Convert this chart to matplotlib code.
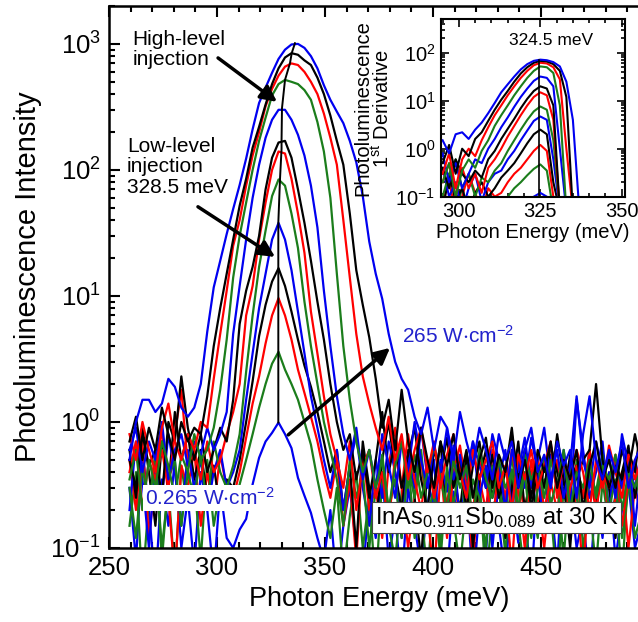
import numpy as np
import matplotlib
matplotlib.use("Agg")
from matplotlib import pyplot as plt
from matplotlib.ticker import LogLocator, MultipleLocator, FixedLocator, LogFormatterMathtext, NullFormatter

plt.rcParams['font.family'] = 'Liberation Sans'
plt.rcParams['mathtext.fontset'] = 'custom'
plt.rcParams['mathtext.rm'] = 'Liberation Sans'
plt.rcParams['mathtext.it'] = 'Liberation Sans:italic'
plt.rcParams['mathtext.default'] = 'regular'

# main spectra: photon energy grid (meV), first point and step
e_start = 259.5
e_step = 3.0

# PL intensity, lowest excitation (0.265 W/cm2) first, highest (265 W/cm2) last
pl_1 = [0.3, 0.08, 0.6, 0.2, 0.05, 0.35, 0.15, 0.5, 0.1, 0.25, 0.07, 0.4, 0.2, 0.06, 0.3, 0.12,
        0.1, 0.14, 0.17, 0.32, 0.52, 0.7, 0.82, 0.99, 0.8, 0.62, 0.36, 0.26, 0.19, 0.12,
        0.08, 0.2, 0.05, 0.15, 0.3, 0.1, 0.06, 0.25, 0.12, 0.4, 0.08, 0.18, 0.05, 0.3, 0.15, 0.07,
        0.22, 0.5, 0.1, 0.06, 0.28, 0.13, 0.35, 0.05, 0.2, 0.09, 0.45, 0.15, 0.06, 0.3, 0.11, 0.2,
        0.05, 0.38, 0.14, 0.25, 0.07, 0.6, 0.3, 0.1, 0.18, 0.05, 0.27, 0.12, 0.4, 0.08, 0.2, 0.33,
        0.1, 0.16, 0.05]
pl_2 = [0.15, 0.4, 0.05, 0.25, 0.5, 0.1, 0.3, 0.06, 0.45, 0.2, 0.35, 0.08, 0.5, 0.15, 0.3, 0.22,
        0.2, 0.32, 0.5, 0.8, 1.3, 2.0, 2.9, 3.6, 2.6, 2.0, 1.5, 1.0, 0.66, 0.35, 0.2,
        0.12, 0.3, 0.06, 0.18, 0.4, 0.1, 0.25, 0.05, 0.35, 0.15, 0.08, 0.28, 0.5, 0.12, 0.2, 0.06,
        0.32, 0.1, 0.45, 0.17, 0.07, 0.24, 0.13, 0.38, 0.05, 0.2, 0.3, 0.09, 0.42, 0.16, 0.06, 0.25,
        0.12, 0.35, 0.2, 0.05, 0.3, 0.14, 0.5, 0.1, 0.22, 0.07, 0.34, 0.15, 0.26, 0.06, 0.4, 0.12,
        0.19, 0.3]
pl_3 = [0.5, 0.2, 0.7, 0.12, 0.35, 0.9, 0.25, 0.06, 0.45, 0.3, 0.6, 0.15, 0.4, 0.2, 0.55, 0.3,
        0.25, 0.4, 0.75, 1.4, 2.3, 4.2, 7.0, 9.6, 7.0, 4.5, 2.6, 1.7, 1.1, 0.7, 0.4,
        0.25, 0.5, 0.15, 0.35, 0.08, 0.6, 0.2, 0.3, 0.12, 0.45, 0.9, 0.3, 0.1, 0.25, 0.5, 0.18,
        0.06, 0.4, 0.22, 0.55, 0.13, 0.3, 0.08, 0.35, 0.2, 0.6, 0.15, 0.28, 0.07, 0.4, 0.18, 0.5,
        0.25, 0.1, 0.33, 0.2, 0.45, 0.12, 0.3, 0.06, 0.38, 0.2, 0.55, 0.15, 0.25, 0.4, 0.1, 0.3,
        0.18, 0.35]
pl_4 = [0.6, 0.25, 0.9, 0.4, 0.15, 0.7, 0.3, 1.2, 0.5, 0.8, 0.35, 0.6, 0.25, 0.45, 0.2, 0.35,
        0.3, 0.5, 1.0, 2.1, 4.8, 8.5, 13, 16.6, 12, 7.5, 4.5, 2.8, 1.9, 1.2, 0.7, 0.4,
        0.6, 0.2, 0.45, 0.1, 0.7, 0.3, 0.15, 0.5, 1.0, 0.4, 0.2, 0.6, 0.25, 0.08, 0.45, 0.3,
        0.7, 0.15, 0.4, 0.2, 0.55, 0.1, 0.35, 0.6, 0.25, 0.45, 0.12, 0.3, 0.7, 0.2, 0.4, 0.15,
        0.5, 0.3, 0.8, 0.35, 0.1, 0.45, 0.25, 0.6, 0.2, 0.5, 0.3, 0.12, 0.4, 0.65, 0.25, 0.45, 0.2]
pl_5 = [0.2, 0.7, 0.35, 0.1, 0.5, 0.25, 0.8, 0.4, 0.15, 0.6, 0.3, 0.5, 0.2, 0.4, 0.6, 0.3,
        0.4, 0.6, 1.5, 3.5, 8.0, 15, 28, 38, 28, 16, 7.5, 3.5, 1.6, 0.9, 0.5,
        0.3, 0.6, 0.2, 0.45, 0.8, 0.3, 0.15, 0.5, 0.25, 0.7, 0.4, 0.12, 0.55, 0.3, 0.9, 0.35,
        0.2, 0.5, 0.28, 0.65, 0.15, 0.4, 0.7, 0.25, 0.45, 0.1, 0.35, 0.6, 0.2, 0.5, 0.3, 0.75,
        0.4, 0.15, 0.55, 0.3, 0.45, 0.2, 1.5, 0.6, 0.25, 0.4, 0.7, 0.2, 0.5, 0.3, 0.6, 0.15,
        0.45, 0.35]
pl_6 = [0.3, 0.12, 0.45, 0.2, 0.6, 0.08, 0.35, 0.5, 0.15, 0.4, 0.25, 0.55, 0.2, 0.7, 0.4, 0.3,
        0.45, 0.8, 2.5, 7, 17, 33, 62, 84, 75, 45, 24, 9, 4, 2, 1.0, 0.6,
        0.35, 0.15, 0.5, 0.25, 0.4, 0.1, 0.3, 0.55, 0.2, 0.35, 0.12, 0.45, 0.25, 0.6, 0.18, 0.3,
        0.08, 0.4, 0.22, 0.5, 0.15, 0.35, 0.25, 0.1, 0.45, 0.3, 0.18, 0.55, 0.2, 0.4, 0.12, 0.3,
        0.5, 0.22, 0.35, 0.08, 0.45, 0.25, 0.15, 0.4, 0.28, 0.55, 0.2, 0.35, 0.12, 0.3, 0.45, 0.2, 0.3]
pl_7 = [0.4, 0.7, 0.2, 0.5, 0.35, 0.6, 0.3, 0.8, 1.8, 0.45, 0.6, 0.35, 0.7, 0.4, 0.5, 0.8,
        1.2, 2, 7, 12, 28, 55, 100, 140, 135, 85, 45, 22, 7.5, 3.5, 1.6, 0.8,
        0.5, 0.3, 0.7, 0.2, 0.45, 0.6, 0.25, 0.4, 0.15, 0.55, 0.3, 0.8, 0.35, 0.2, 0.5, 0.25,
        0.45, 0.12, 0.4, 0.65, 0.3, 0.2, 0.5, 0.35, 0.15, 0.45, 0.25, 0.6, 0.3, 0.1, 0.4, 0.55,
        0.2, 0.35, 0.5, 0.15, 0.3, 0.45, 0.25, 0.6, 0.2, 0.4, 0.3, 0.55, 0.15, 0.35, 0.5, 0.25, 0.4]
pl_8 = [0.5, 0.3, 0.8, 0.45, 0.6, 0.25, 1.0, 0.7, 2.3, 0.9, 0.5, 0.8, 0.4, 0.6, 0.9, 0.7,
        1.5, 6, 11, 17, 30, 70, 125, 165, 170, 125, 70, 38, 19, 9, 4.5, 2.0, 1.0, 0.6,
        0.8, 0.35, 0.6, 0.25, 0.5, 1.2, 0.4, 0.7, 0.3, 0.55, 0.9, 0.35, 0.2, 0.6, 0.4, 0.75,
        0.3, 0.5, 0.2, 0.45, 0.7, 0.3, 0.55, 0.25, 0.4, 0.8, 0.35, 0.6, 0.2, 0.45,
        0.3, 0.65, 0.4, 0.25, 0.55, 0.35, 0.5, 0.6, 2.0, 0.5, 0.3, 0.45, 0.35, 0.6, 0.4, 1.0, 2.4]
pl_9 = [0.6, 0.9, 0.4, 0.7, 0.5, 1.0, 0.35, 0.6, 0.8, 0.45, 0.7, 0.55, 0.9, 0.6, 0.8, 1.2,
        5, 12, 28, 60, 110, 180, 250, 300, 300, 250, 190, 130, 75, 35, 11, 4, 1.6, 0.8,
        0.5, 0.9, 0.35, 0.6, 0.3, 0.8, 0.45, 0.25, 0.7, 0.4, 1.0, 0.5, 0.3, 0.65, 0.4, 0.9,
        0.35, 0.55, 0.25, 0.7, 0.45, 0.3, 0.8, 0.5, 0.2, 0.6, 0.4, 0.75, 0.3, 0.5, 0.9, 0.35,
        0.6, 0.25, 0.45, 1.6, 0.5, 0.3, 0.7, 0.4, 0.55, 0.25, 0.8, 0.45, 0.3, 0.6, 0.4]
pl_10 = [0.35, 0.6, 0.2, 0.5, 0.3, 0.7, 0.45, 0.25, 0.55, 0.4, 0.8, 0.5, 0.6, 0.9, 1.8, 4.5,
         14, 30, 55, 100, 170, 260, 390, 480, 518, 500, 480, 430, 360, 240, 140, 60, 15, 4, 1.5, 0.7,
         0.4, 0.6, 0.3, 0.5, 0.2, 0.45, 0.7, 0.3, 0.55, 0.25, 0.4, 0.65, 0.35, 0.2, 0.5, 0.3,
         0.45, 0.15, 0.6, 0.35, 0.25, 0.5, 0.3, 0.4, 0.2, 0.55, 0.35, 0.45, 0.25, 0.5, 0.3, 0.6,
         0.2, 0.4, 0.3, 0.5, 0.25, 0.45, 0.35, 0.55, 0.2, 0.4, 0.3, 0.5, 0.35]
pl_11 = [0.8, 0.5, 1.0, 0.6, 0.4, 0.9, 1.4, 0.7, 0.5, 0.8, 0.6, 1.0, 0.9, 2.2, 5, 11,
         25, 40, 75, 130, 200, 320, 440, 560, 660, 700, 680, 600, 500, 400, 280, 180, 110, 40, 14, 5,
         2.3, 1.4, 0.9,
         0.6, 1.1, 0.5, 0.8, 0.35, 0.6, 0.9, 0.4, 0.7, 0.3, 0.55, 0.8, 0.4, 0.25, 0.6, 0.35,
         0.5, 0.7, 0.3, 0.45, 0.2, 0.55, 0.35, 0.6, 0.3, 0.45, 0.7, 0.25, 0.5, 0.35, 0.6, 0.4,
         0.2, 0.5, 0.3, 0.65, 0.4, 0.25, 0.55, 0.35, 0.5, 0.3]
pl_12 = [0.7, 1.1, 0.5, 0.9, 0.6, 1.3, 0.8, 0.5, 1.0, 0.7, 0.9, 0.8, 1.6, 4, 8, 15,
         28, 52, 85, 150, 220, 330, 480, 640, 780, 844, 820, 740, 680, 540, 400, 270, 170, 110, 45, 16,
         8.5, 4.7, 2.2, 0.9,
         1.5, 0.6, 1.8, 0.7, 0.4, 0.9, 0.5, 0.3, 0.7, 0.45, 0.8, 0.35, 0.6, 0.25, 0.5, 0.75,
         0.3, 0.55, 0.4, 0.9, 0.3, 0.5, 0.25, 0.6, 0.4, 0.7, 0.3, 0.5, 0.35, 0.6, 0.2, 0.45,
         0.7, 0.35, 0.5, 0.3, 0.6, 0.4, 0.8, 0.45, 0.55]
pl_13 = [0.5, 1.0, 1.5, 1.5, 1.2, 1.4, 2.2, 1.9, 1.3, 1.1, 1.3, 2.0, 5.2, 11.7, 19, 31,
         49, 76, 123, 210, 340, 450, 590, 760, 900, 990, 1000, 930, 800, 640, 470, 360, 290, 235,
         170, 115, 62, 27, 15, 9.5, 5, 3.0, 2.2, 1.8, 1.1,
         0.8, 1.3, 0.6, 1.1, 0.9, 0.5, 1.2, 0.7, 0.45, 0.9, 0.6, 0.35, 0.8, 0.5, 0.7, 0.3,
         0.6, 0.9, 0.4, 0.55, 0.3, 0.7, 0.45, 0.6, 0.25, 0.8, 1.6, 0.5, 0.35, 0.6, 0.4, 0.7,
         0.3, 0.5, 0.65, 0.4]

# peak positions (line through the maxima)
peak_energy = [328.4, 328.4, 328.4, 328.4, 328.4, 329.2, 329.9, 329.9, 330.1, 331.5, 333.8, 334.6, 336.1]
peak_int = [0.99, 3.6, 9.6, 16.6, 38, 86, 147, 173, 309, 518, 703, 844, 1013]

# main x tick labels (500 lies beyond the cropped edge)
x_ticks = [250, 300, 350, 400, 450]

# inset: first derivative, energy grid
d_start = 295.0
d_step = 2.0
d_1 = [0.05, 0.05, 0.12, 0.05, 0.1, 0.05, 0.08, 0.05, 0.06, 0.05, 0.05, 0.07, 0.05, 0.08, 0.1, 0.12, 0.1, 0.05, 0.05, 0.05, 0.05, 0.05]
d_2 = [0.05, 0.1, 0.05, 0.15, 0.05, 0.08, 0.05, 0.1, 0.05, 0.08, 0.1, 0.15, 0.2, 0.28, 0.38, 0.47, 0.35, 0.05, 0.05, 0.05, 0.05, 0.05]
d_3 = [0.08, 0.2, 0.05, 0.1, 0.3, 0.12, 0.05, 0.15, 0.1, 0.12, 0.2, 0.3, 0.4, 0.6, 0.9, 1.2, 0.9, 0.1, 0.05, 0.05, 0.05, 0.05]
d_4 = [0.05, 0.3, 0.08, 0.15, 0.05, 0.12, 0.2, 0.1, 0.15, 0.25, 0.35, 0.5, 0.8, 1.3, 2.0, 2.5, 2.0, 0.2, 0.05, 0.05, 0.05, 0.05]
d_5 = [0.4, 0.1, 0.2, 0.05, 0.15, 0.3, 0.08, 0.2, 0.3, 0.35, 0.6, 0.9, 1.5, 2.4, 3.8, 4.7, 4.0, 0.6, 0.05, 0.05, 0.05, 0.05]
d_6 = [0.1, 0.3, 0.6, 0.15, 0.3, 0.1, 0.25, 0.2, 0.35, 0.5, 0.9, 1.5, 2.5, 4, 6, 7.6, 6.5, 1.5, 0.05, 0.05, 0.05, 0.05]
d_7 = [0.2, 0.5, 0.1, 0.4, 0.15, 0.3, 0.12, 0.4, 0.6, 1.0, 1.8, 3, 5, 8, 12, 15, 13, 4, 0.05, 0.05, 0.05, 0.05]
d_8 = [0.4, 0.15, 0.6, 0.3, 0.2, 0.35, 0.25, 0.6, 0.9, 1.6, 2.6, 4.2, 7, 11, 16, 20, 18, 8, 0.05, 0.05, 0.05, 0.05]
d_9 = [0.8, 0.2, 0.5, 0.15, 0.3, 0.6, 0.5, 1.0, 1.6, 2.8, 4.5, 7.5, 12, 18, 26, 32, 30, 20, 1.0, 0.05, 0.05, 0.05]
d_10 = [0.2, 0.5, 0.1, 0.35, 0.6, 0.4, 0.9, 1.5, 3, 5, 8, 13, 20, 30, 42, 52, 50, 38, 8, 0.05, 0.05, 0.05]
d_11 = [0.3, 0.8, 0.15, 0.6, 1.0, 0.7, 1.5, 2.8, 5, 8, 13, 20, 30, 42, 55, 62, 60, 50, 28, 1.0, 0.05, 0.05]
d_12 = [0.5, 1.2, 0.3, 1.0, 0.7, 1.6, 2.2, 3.8, 6.5, 10.5, 16, 25, 37, 50, 62, 68, 66, 58, 42, 12, 0.05, 0.05]
d_13 = [1.5, 0.8, 2.0, 2.2, 1.6, 2.5, 3.5, 5.5, 9, 15, 22, 32, 45, 58, 68, 72, 70, 64, 52, 25, 4, 0.05]
d_peak_energy = [324.5, 324.5]
d_peak_int = [0.1, 70]

colors = ['#0000f0', '#1b7d1b', '#ff0000', '#000000']

fig = plt.figure(figsize=(6.38, 6.22), dpi=100)
ax = fig.add_axes([0.1708, 0.1190, 0.8464, 0.8714])

spectra = [pl_1, pl_2, pl_3, pl_4, pl_5, pl_6, pl_7, pl_8, pl_9, pl_10, pl_11, pl_12, pl_13]
for i, s in enumerate(spectra):
    e = e_start + e_step * np.arange(len(s))
    ax.plot(e, s, color=colors[i % 4], lw=1.6)
ax.plot(peak_energy, peak_int, color='k', lw=1.4)

ax.set_yscale('log')
ax.set_xlim(250, 500)
ax.set_ylim(0.1, 2000)
ax.xaxis.set_major_locator(FixedLocator(x_ticks))
ax.xaxis.set_minor_locator(MultipleLocator(10))
ax.yaxis.set_major_locator(LogLocator(base=10))
ax.yaxis.set_minor_locator(LogLocator(base=10, subs=np.arange(2, 10)))
ax.yaxis.set_major_formatter(LogFormatterMathtext())
ax.yaxis.set_minor_formatter(NullFormatter())
ax.tick_params(which='both', direction='in', top=True, right=True, width=1.5)
ax.tick_params(which='major', length=8, labelsize=18.5, pad=6)
ax.tick_params(which='minor', length=4)
for sp in ax.spines.values():
    sp.set_linewidth(1.8)
ax.set_xlabel('Photon Energy (meV)', fontsize=19.5, labelpad=4)
ax.set_ylabel('Photoluminescence Intensity', fontsize=21, labelpad=6)

arrow = dict(arrowstyle='-|>', color='k', lw=2.5, mutation_scale=24, shrinkA=0, shrinkB=0)
ax.text(261, 900, 'High-level\ninjection', fontsize=15, va='center', ha='left', linespacing=1.1)
ax.annotate('', xy=(327.8, 347), xytext=(300.5, 774), arrowprops=arrow)
ax.text(258.3, 106, 'Low-level\ninjection\n328.5 meV', fontsize=15, va='center', ha='left', linespacing=1.1)
ax.annotate('', xy=(326.9, 20.4), xytext=(291.2, 51), arrowprops=arrow)
ax.annotate('', xy=(380.1, 3.87), xytext=(333, 0.79), arrowprops=arrow)
ax.text(385.5, 4.8, '265 W$\\cdot$cm$^{-2}$', color='#2222cc', fontsize=15, va='center', ha='left')
ax.text(266.7, 0.25, '0.265 W$\\cdot$cm$^{-2}$', color='#2222cc', fontsize=15, va='center', ha='left',
        bbox=dict(facecolor='white', edgecolor='none', pad=1.5))
ax.text(373, 0.175, 'InAs$_{0.911}$Sb$_{0.089}$ at 30 K', fontsize=17, va='center', ha='left',
        bbox=dict(facecolor='white', edgecolor='#444444', lw=0.8, pad=2))

# inset
ins = fig.add_axes([0.6912, 0.6838, 0.2884, 0.2852])
derivs = [d_1, d_2, d_3, d_4, d_5, d_6, d_7, d_8, d_9, d_10, d_11, d_12, d_13]
for i, d in enumerate(derivs):
    e = d_start + d_step * np.arange(len(d))
    ins.plot(e, d, color=colors[i % 4], lw=1.5)
ins.plot(d_peak_energy, d_peak_int, color='k', lw=1.2)
ins.set_yscale('log')
ins.set_xlim(294.5, 351)
ins.set_ylim(0.1, 500)
ins.xaxis.set_major_locator(MultipleLocator(25))
ins.xaxis.set_minor_locator(MultipleLocator(5))
ins.yaxis.set_major_locator(LogLocator(base=10))
ins.yaxis.set_minor_locator(LogLocator(base=10, subs=np.arange(2, 10)))
ins.yaxis.set_major_formatter(LogFormatterMathtext())
ins.yaxis.set_minor_formatter(NullFormatter())
ins.tick_params(which='both', direction='in', top=True, right=True, width=1.2)
ins.tick_params(which='major', length=6, labelsize=14.5, pad=4)
ins.tick_params(which='minor', length=3)
for sp in ins.spines.values():
    sp.set_linewidth(1.5)
ins.set_xlabel('Photon Energy (meV)', fontsize=14.5, labelpad=1)
ins.set_ylabel('Photoluminescence\n1$^{st}$ Derivative', fontsize=14.5, labelpad=2, linespacing=0.95)
ins.text(328.2, 180, '324.5 meV', fontsize=12.5, ha='center', va='center')

fig.savefig('out.png', dpi=100)
